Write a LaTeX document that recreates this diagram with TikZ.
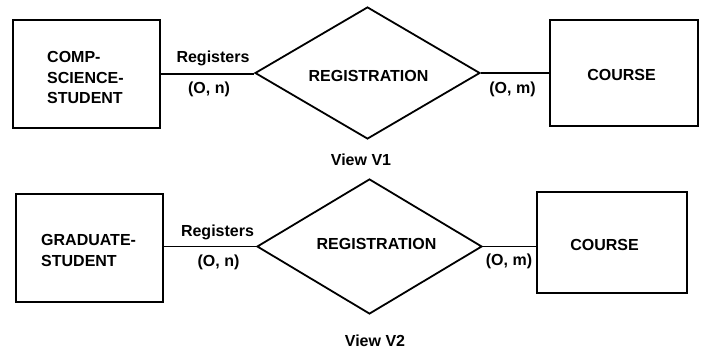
\documentclass[tikz,border=0pt]{standalone}
\usepackage{fontspec}
\setmainfont{Liberation Sans}
\usetikzlibrary{shapes.geometric}
\begin{document}
\begin{tikzpicture}[x=1pt,y=-1pt,
  every node/.style={font=\bfseries\fontsize{16}{20.5}\selectfont, inner sep=0pt},
  entity/.style={draw, line width=1.8pt, rectangle},
  relship/.style={draw, line width=1.8pt, diamond, shape aspect=1.7},
  link/.style={line width=1.4pt},
  lbl/.style={anchor=base}]
\useasboundingbox (0,0) rectangle (704,352);

% ---- View V1 ----
\node[entity, minimum width=147pt, minimum height=108pt] (s1) at (86.5,74) {};
\node[anchor=west, align=left] (s1t) at (47,77.5) {COMP-\\SCIENCE-\\STUDENT};
\node[relship, minimum width=225pt, minimum height=132pt] (d1) at (367.5,73) {};
\node (d1t) at (368.5,76) {REGISTRATION};
\node[entity, minimum width=148pt, minimum height=106pt] (c1) at (624,73) {};
\node (c1t) at (621.6,75) {COURSE};
\draw[link] (s1.east) -- (s1.east -| d1.west);
\draw[link] (d1.east) -- (c1.west |- d1.east);
\node[lbl] (r1) at (213,63) {Registers};
\node[lbl] (n1) at (209,94) {(O, n)};
\node[lbl] (m1) at (512.5,94) {(O, m)};
\node[lbl] (v1) at (361,166) {View V1};

% ---- View V2 ----
\node[entity, minimum width=147pt, minimum height=108pt] (s2) at (89.5,248) {};
\node[anchor=west, align=left] (s2t) at (41,250.5) {GRADUATE-\\STUDENT};
\node[relship, minimum width=225pt, minimum height=135pt] (d2) at (369.5,246.5) {};
\node (d2t) at (376.5,243.5) {REGISTRATION};
\node[entity, minimum width=150pt, minimum height=101pt] (c2) at (612,242.5) {};
\node (c2t) at (604.5,245) {COURSE};
\draw[link] (s2.east |- d2.west) -- (d2.west);
\draw[link] (d2.east) -- (c2.west |- d2.east);
\node[lbl] (r2) at (217.5,236.5) {Registers};
\node[lbl] (n2) at (218.5,266.5) {(O, n)};
\node[lbl] (m2) at (509,266) {(O, m)};
\node[lbl] (v2) at (375,346.5) {View V2};
\end{tikzpicture}
\end{document}
